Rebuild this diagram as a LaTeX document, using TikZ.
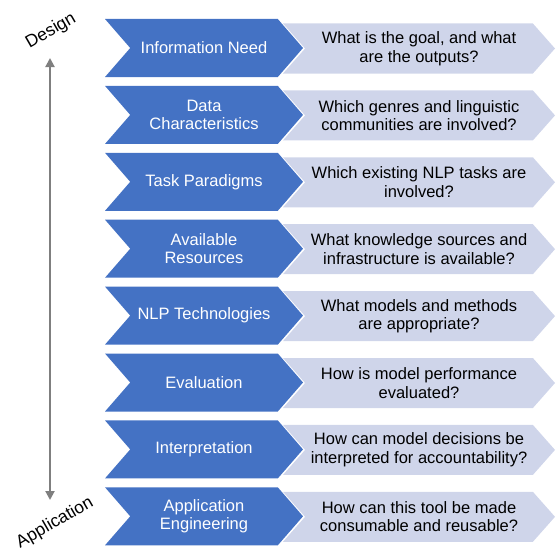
\documentclass[tikz,border=0pt]{standalone}
\usepackage{fontspec}
\setmainfont{Liberation Sans}
\usepackage{tikz}
\usetikzlibrary{arrows.meta, positioning, shapes.symbols}
\definecolor{stageblue}{HTML}{4472C4}
\definecolor{questionbg}{HTML}{CFD5EA}
\definecolor{axisgray}{HTML}{7F7F7F}

\begin{document}
\begin{tikzpicture}[x=1pt, y=-1pt,
    stage/.style={signal, signal from=west, signal to=east, signal pointer angle=98,
                  fill=stageblue, draw=none, text=white, inner sep=0pt,
                  minimum width=198pt, minimum height=58pt, align=center,
                  font=\fontsize{16.5}{18.5}\selectfont},
    question/.style={signal, signal from=west, signal to=east, signal pointer angle=97,
                  fill=questionbg, draw=none, text=black, inner sep=0pt,
                  minimum width=272pt, minimum height=50pt, align=center,
                  font=\fontsize{16.5}{18.5}\selectfont},
    axis/.style={{Triangle[length=9pt, width=9pt]}-{Triangle[length=9pt, width=9pt]},
                 line width=2pt, color=axisgray},
    label/.style={font=\fontsize{17.5}{20}\selectfont, rotate=30, inner sep=1pt}
  ]
    \useasboundingbox (0,0) rectangle (556,551);

    % Stages
    \node[stage] (need) at (204,48) {Information Need};
    \node[stage] (data) at (204,114.9) {Data\\Characteristics};
    \node[stage] (task) at (204,181.8) {Task Paradigms};
    \node[stage] (resources) at (204,248.7) {Available\\Resources};
    \node[stage] (tech) at (204,315.6) {NLP Technologies};
    \node[stage] (eval) at (204,382.5) {Evaluation};
    \node[stage] (interp) at (204,449.4) {Interpretation};
    \node[stage] (engineering) at (204,516.3) {Application\\Engineering};

    % Questions
    \node[question] (q-need) at (419,48.5) {What is the goal, and what\\are the outputs?};
    \node[question] (q-data) at (419,115.4) {Which genres and linguistic\\communities are involved?};
    \node[question] (q-task) at (419,182.3) {Which existing NLP tasks are\\involved?};
    \node[question] (q-resources) at (419,249.2) {What knowledge sources and\\infrastructure is available?};
    \node[question] (q-tech) at (419,316.1) {What models and methods\\are appropriate?};
    \node[question] (q-eval) at (419,383) {How is model performance\\evaluated?};
    \node[question] (q-interp) at (419,449.9) {How can model decisions be\\interpreted for accountability?};
    \node[question] (q-engineering) at (419,516.8) {How can this tool be made\\consumable and reusable?};

    % Design / application axis
    \node[label] (design) at (51,31) {Design};
    \node[label] (application) at (55,523) {Application};
    \coordinate (axis-top) at (50,58);
    \coordinate (axis-bottom) at (50,500);
    \draw[axis] (axis-bottom) -- (axis-top);
\end{tikzpicture}
\end{document}
